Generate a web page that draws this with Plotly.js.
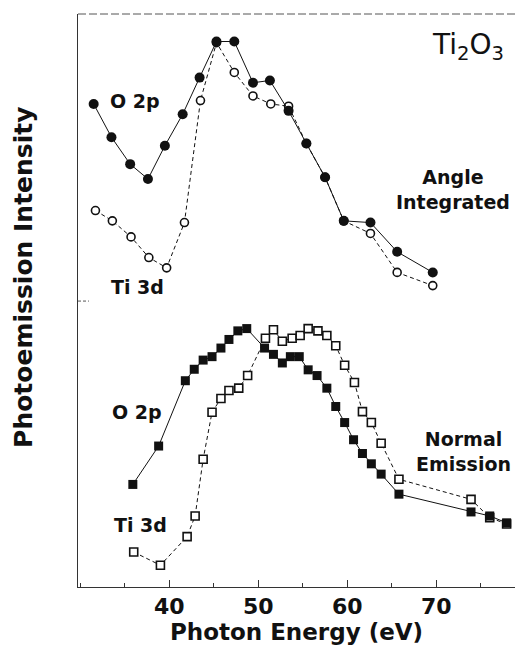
<!DOCTYPE html>
<html>
<head>
<meta charset="utf-8">
<script src="https://cdn.plot.ly/plotly-3.0.1.min.js"></script>
<style>html,body{margin:0;padding:0;background:#fff;}#chart{width:515px;height:647px;}</style>
</head>
<body>
<div id="chart"></div>
<script>
// Photon energy (eV) and photoemission intensity (arb. units, 0-100 over full frame)
// Upper panel: Angle Integrated
var aiO2pX = [31.5, 33.5, 35.6, 37.6, 39.5, 41.5, 43.4, 45.3, 47.3, 49.4, 51.3, 53.4, 55.4, 57.5, 59.6, 62.6, 65.6, 69.6];
var aiO2pY = [84.3, 78.5, 73.8, 71.2, 77.0, 82.5, 88.9, 95.2, 95.2, 88.0, 88.4, 83.1, 77.4, 71.5, 63.9, 63.6, 58.5, 54.9];
var aiTi3dX = [31.7, 33.6, 35.7, 37.7, 39.7, 41.7, 43.5, 45.3, 47.3, 49.4, 51.4, 53.4, 55.4, 57.5, 59.6, 62.6, 65.6, 69.6];
var aiTi3dY = [65.7, 63.9, 61.1, 57.5, 55.7, 63.6, 84.9, 95.0, 89.8, 85.7, 84.3, 83.9, 77.4, 71.5, 63.9, 61.7, 54.9, 52.6];
// Lower panel: Normal Emission
var neO2pX = [35.9, 38.8, 41.8, 42.8, 43.8, 44.8, 45.8, 46.7, 47.7, 48.7, 50.7, 51.7, 52.7, 53.6, 54.6, 55.6, 56.6, 57.7, 58.7, 59.7, 60.7, 61.7, 62.7, 63.8, 65.8, 73.9, 76.0, 77.9];
var neO2pY = [17.9, 24.6, 36.0, 38.0, 39.6, 40.2, 41.7, 43.2, 44.7, 45.1, 41.7, 40.6, 39.1, 40.2, 40.2, 37.9, 36.9, 34.7, 31.5, 28.7, 25.7, 23.3, 21.5, 19.7, 16.2, 13.1, 12.4, 11.2];
var neTi3dX = [36.0, 39.0, 42.0, 42.9, 43.8, 44.8, 45.8, 46.7, 47.8, 48.8, 50.8, 51.7, 52.7, 53.8, 54.7, 55.6, 56.7, 57.7, 58.7, 59.7, 60.8, 61.7, 62.7, 63.8, 65.8, 73.9, 76.0, 77.9];
var neTi3dY = [6.1, 3.8, 8.8, 12.4, 22.3, 30.5, 32.9, 34.3, 34.7, 36.9, 43.4, 44.9, 42.9, 43.4, 43.9, 45.1, 44.7, 43.9, 42.1, 38.7, 35.7, 30.6, 28.7, 25.1, 18.8, 15.3, 12.1, 11.0];
var xTickVals = [40, 50, 60, 70];
var xTickText = ['40', '50', '60', '70'];

var ink = '#111';
var dashLine = {color: ink, width: 1, dash: '4px,3px'};
var solidLine = {color: ink, width: 1};
var traces = [
  {x: aiTi3dX, y: aiTi3dY, mode: 'lines+markers', line: dashLine,
   marker: {symbol: 'circle', size: 8, color: '#fff', line: {color: ink, width: 1.6}}},
  {x: aiO2pX, y: aiO2pY, mode: 'lines+markers', line: solidLine,
   marker: {symbol: 'circle', size: 10, color: ink}},
  {x: neTi3dX, y: neTi3dY, mode: 'lines+markers', line: dashLine,
   marker: {symbol: 'square', size: 8, color: '#fff', line: {color: ink, width: 1.6}}},
  {x: neO2pX, y: neO2pY, mode: 'lines+markers', line: solidLine,
   marker: {symbol: 'square', size: 9, color: ink}}
];

var fam = 'DejaVu Sans, Liberation Sans, sans-serif';
var lblFont = {family: fam, size: 19, color: ink, weight: 'bold'};
function ann(text, x, y, font, angle) {
  return {text: text, x: x, y: y, xref: 'paper', yref: 'paper', showarrow: false,
          xanchor: 'center', yanchor: 'middle', font: font || lblFont, textangle: angle || 0};
}

var layout = {
  width: 515, height: 647,
  margin: {l: 78, r: 0, t: 14, b: 60},
  paper_bgcolor: '#fff', plot_bgcolor: '#fff',
  showlegend: false,
  xaxis: {
    range: [29.74, 78.84], tickvals: xTickVals, ticktext: xTickText,
    ticks: 'inside', ticklen: 7, tickcolor: '#333', tickwidth: 1,
    minor: {ticks: 'inside', ticklen: 4, dtick: 5, tick0: 0, tickcolor: '#333'},
    showline: true, linecolor: '#333', linewidth: 1,
    showgrid: false, zeroline: false,
    tickfont: {family: fam, size: 22, color: ink, weight: 'bold'},
    title: {text: 'Photon Energy (eV)', font: {family: fam, size: 23, color: ink, weight: 'bold'}, standoff: 4}
  },
  yaxis: {
    range: [0, 100], showticklabels: false, ticks: '',
    showline: true, linecolor: '#333', linewidth: 1,
    showgrid: false, zeroline: false
  },
  shapes: [
    {type: 'line', xref: 'paper', yref: 'paper', x0: 0, x1: 1, y0: 1, y1: 1,
     line: {color: '#555', width: 1, dash: '8px,3px'}},
    {type: 'line', xref: 'paper', yref: 'paper', x0: 0, x1: 0.025, y0: 0.499, y1: 0.499,
     line: {color: '#555', width: 1, dash: '3px,2px'}}
  ],
  annotations: [
    ann('Photoemission Intensity', -0.126, 0.541, {family: fam, size: 25, color: ink, weight: 'bold'}, -90),
    ann('O 2p', 0.130, 0.848),
    ann('Ti 3d', 0.137, 0.524),
    ann('Ti<sub>2</sub>O<sub>3</sub>', 0.893, 0.944, {family: fam, size: 28, color: ink}),
    ann('Angle<br>Integrated', 0.858, 0.693),
    ann('Normal<br>Emission', 0.883, 0.236),
    ann('O 2p', 0.135, 0.305),
    ann('Ti 3d', 0.142, 0.108)
  ]
};

Plotly.newPlot('chart', traces, layout, {staticPlot: true, displayModeBar: false});
</script>
</body>
</html>
